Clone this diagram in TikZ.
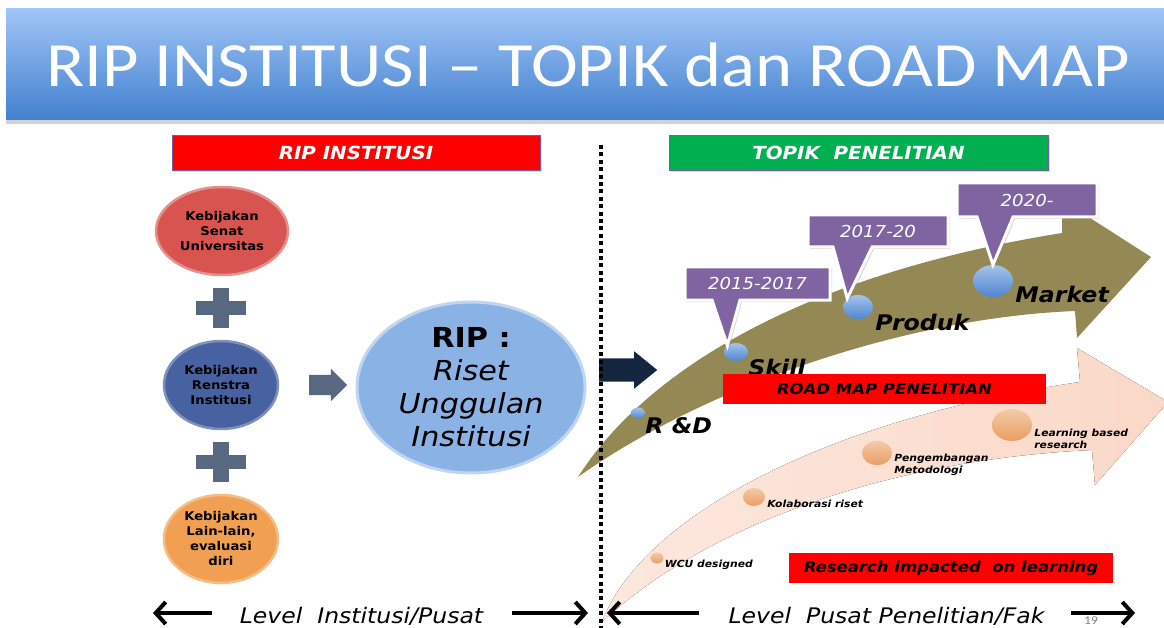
\documentclass[tikz,border=0pt]{standalone}
\usepackage{fontspec}
\usepackage{tikz}
\usetikzlibrary{positioning,arrows.meta,shapes.geometric,shapes.arrows,shadows,calc}
\newfontfamily\vfont[FakeStretch=1.1, BoldFont={DejaVu Sans Bold}, ItalicFont={DejaVu Sans Oblique}, BoldItalicFont={DejaVu Sans Bold Oblique}]{DejaVu Sans}
\newfontfamily\titlefont[FakeStretch=1.12]{Carlito}
\definecolor{titletop}{RGB}{160,197,247}
\definecolor{titlebot}{RGB}{66,128,206}
\definecolor{topikgreen}{RGB}{0,176,80}
\definecolor{boxedge}{RGB}{112,96,160}
\definecolor{senatred}{RGB}{216,84,80}
\definecolor{renstrablue}{RGB}{72,97,160}
\definecolor{lainorange}{RGB}{241,160,82}
\definecolor{plusgray}{RGB}{88,104,128}
\definecolor{ripblue}{RGB}{138,178,228}
\definecolor{navyarrow}{RGB}{20,37,64}
\definecolor{olivearrow}{RGB}{148,137,84}
\definecolor{peach}{RGB}{250,216,200}
\definecolor{yearpurple}{RGB}{128,100,162}
\definecolor{ballblue}{RGB}{78,134,210}
\definecolor{ballorange}{RGB}{234,158,98}

\begin{document}
\begin{tikzpicture}[x=1pt, y=-1pt,
    titlebar/.style={rectangle, inner sep=0pt, minimum width=1164pt, minimum height=111pt, top color=titletop, bottom color=titlebot, text=white, font=\titlefont\fontsize{63}{66}\selectfont, drop shadow={opacity=0.35, shadow xshift=0pt, shadow yshift=-4pt}},
    headbox/.style={rectangle, draw=boxedge, line width=0.8pt, minimum height=35pt, inner sep=0pt, text=white, font=\vfont\bfseries\itshape\fontsize{18}{20}\selectfont, drop shadow={opacity=0.3, shadow xshift=2pt, shadow yshift=-2pt}},
    policy/.style={ellipse, inner sep=0pt, minimum width=114pt, minimum height=88pt, align=center, line width=2.5pt, font=\vfont\bfseries\fontsize{12}{15}\selectfont},
    blockarrow/.style={single arrow, inner xsep=0pt, draw=none},
    yearbox/.style={fill=yearpurple, draw=white, line width=3pt, drop shadow={opacity=0.3, shadow xshift=2pt, shadow yshift=-2pt}},
    yeartext/.style={text=white, inner sep=0pt, font=\vfont\itshape\fontsize{16.5}{18}\selectfont},
    stepball/.style={ellipse, inner sep=0pt, top color=ballblue!50, bottom color=ballblue},
    steplabel/.style={anchor=west, inner sep=0pt, font=\vfont\bfseries\itshape\fontsize{21.5}{24}\selectfont},
    mapball/.style={ellipse, inner sep=0pt, top color=ballorange!55, bottom color=ballorange},
    maplabel/.style={anchor=west, inner sep=0pt, align=left, font=\vfont\bfseries\itshape\fontsize{9.8}{12}\selectfont},
    redbar/.style={rectangle, fill=red, inner sep=0pt, minimum height=30pt, font=\vfont\bfseries\itshape\fontsize{15}{18}\selectfont},
    levellabel/.style={anchor=base, inner sep=0pt, font=\vfont\itshape\fontsize{21.4}{24}\selectfont},
    levelarrow/.style={line width=4pt, -{Straight Barb[length=10pt, width=22pt]}}
  ]
\useasboundingbox (0,0) rectangle (1164,628);
\clip (0,0) rectangle (1164,628);
\fill[white] (0,0) rectangle (1164,628);

\node[titlebar] (title) at (588,64.5) {RIP INSTITUSI – TOPIK dan ROAD MAP};

\node[headbox, fill=red, minimum width=368pt] (riphead) at (356,152.5) {RIP INSTITUSI};
\node[headbox, fill=topikgreen, minimum width=379pt] (topikhead) at (858.5,152.5) {TOPIK\ \ PENELITIAN};

\node[policy, fill=senatred, draw=senatred!65!white, minimum width=132pt] (senat) at (222,231) {Kebijakan\\Senat\\Universitas};
\node[policy, fill=renstrablue, draw=renstrablue!70!white] (renstra) at (221,385) {Kebijakan\\Renstra\\Institusi};
\node[policy, fill=lainorange, draw=lainorange!70!white] (lain) at (221,539) {Kebijakan\\Lain-lain,\\evaluasi\\diri};
\foreach \py in {308,462} {
  \fill[plusgray] (196,\py-7) rectangle (246,\py+7);
  \fill[plusgray] (213,\py-20) rectangle (229,\py+20);
}

\node[blockarrow, fill=plusgray, inner ysep=10pt, minimum height=38pt, single arrow head extend=6pt] (toward) at (323,385) {};
\node[ellipse, inner sep=0pt, minimum width=228pt, minimum height=171pt, fill=ripblue, draw=ripblue!55!white, line width=3pt, align=center, font=\vfont\fontsize{27.5}{33}\selectfont] (rip) at (471,387.5) {{\bfseries RIP :}\\{\itshape Riset}\\{\itshape Unggulan}\\{\itshape Institusi}};
\node[blockarrow, fill=navyarrow, inner ysep=11.5pt, minimum height=58pt, single arrow head extend=7pt, single arrow tip angle=78] (torm) at (621,370) {};

\fill[olivearrow] (578,477) .. controls (645,372) and (800,275) .. (1062,233) -- (1062,200) -- (1151,257) -- (1077,338) -- (1075,311) .. controls (900,318) and (700,390) .. (578,477) -- cycle;
\fill[left color=peach!60, right color=peach] (602,622) .. controls (640,520) and (820,420) .. (1080,382) -- (1077,348) -- (1168,402) -- (1095,485) -- (1092,450) .. controls (880,460) and (700,530) .. (602,622) -- cycle;

\node[stepball, minimum width=14pt, minimum height=11pt] (rnd) at (638,413) {};
\node[stepball, minimum width=24pt, minimum height=18pt] (skill) at (736,352) {};
\node[stepball, minimum width=30pt, minimum height=24pt] (produk) at (858,307) {};
\node[stepball, minimum width=40pt, minimum height=32pt] (market) at (993,281) {};
\node[steplabel] (rndtxt) at ($(rnd.east)+(0,13)$) {R \&D};
\node[steplabel] (skilltxt) at ($(skill.east)+(0,15)$) {Skill};
\node[steplabel] (produktxt) at ($(produk.east)+(2,15)$) {Produk};
\node[steplabel] (markettxt) at ($(market.east)+(2,13)$) {Market};

\node[mapball, minimum width=13pt, minimum height=11pt] (wcu) at (657,558) {};
\node[mapball, minimum width=22pt, minimum height=18pt] (kolab) at (754,497) {};
\node[mapball, minimum width=30pt, minimum height=24pt] (metod) at (877,453) {};
\node[mapball, minimum width=40pt, minimum height=32pt] (learn) at (1012,425) {};
\node[maplabel] (wcutxt) at ($(wcu.east)+(1,7)$) {WCU designed};
\node[maplabel] (kolabtxt) at ($(kolab.east)+(2,7)$) {Kolaborasi riset};
\node[maplabel] (metodtxt) at ($(metod.east)+(2,12)$) {Pengembangan\\Metodologi};
\node[maplabel] (learntxt) at ($(learn.east)+(2,14)$) {Learning based\\research};

\draw[yearbox] (685,267) -- (830,267) -- (830,300) -- (740,300) -- (skill.north west) -- (712,300) -- (685,300) -- cycle;
\node[yeartext] (y1517) at (757.5,283.5) {2015-2017};
\draw[yearbox] (808,215) -- (948,215) -- (948,247) -- (872,247) -- (produk.north west) -- (833,247) -- (808,247) -- cycle;
\node[yeartext] (y1720) at (878,231) {2017-20};
\draw[yearbox] (957,183) -- (1097,183) -- (1097,217) -- (1013,217) -- (market.north) -- (977,217) -- (957,217) -- cycle;
\node[yeartext] (y2020) at (1027,200) {2020-};

\node[redbar, minimum width=323pt] (roadmap) at (884.5,389) {ROAD MAP PENELITIAN};
\node[redbar, minimum width=324pt] (impact) at (951,568) {Research impacted\ \ on learning};

\coordinate (divtop) at (601,145);
\coordinate (divbot) at (601,628);
\draw[line width=4pt, dash pattern=on 4pt off 3.4pt] (divtop) -- (divbot);

\node[levellabel] (levinst) at (361.5,623) {Level\ \ Institusi/Pusat};
\node[levellabel] (levpusat) at (886.5,623) {Level\ \ Pusat Penelitian/Fak};
\coordinate (a1) at (212,613); \coordinate (a2) at (153,613);
\coordinate (a3) at (512,613); \coordinate (a4) at (588,613);
\coordinate (a5) at (699,613); \coordinate (a6) at (607,613);
\coordinate (a7) at (1071,613); \coordinate (a8) at (1135,613);
\draw[levelarrow] (a1) -- (a2);
\draw[levelarrow] (a3) -- (a4);
\draw[levelarrow] (a5) -- (a6);
\draw[levelarrow] (a7) -- (a8);
\node[text=gray, inner sep=0pt, font=\titlefont\fontsize{12}{12}\selectfont] (pagenum) at (1091,621) {19};

\end{tikzpicture}
\end{document}
